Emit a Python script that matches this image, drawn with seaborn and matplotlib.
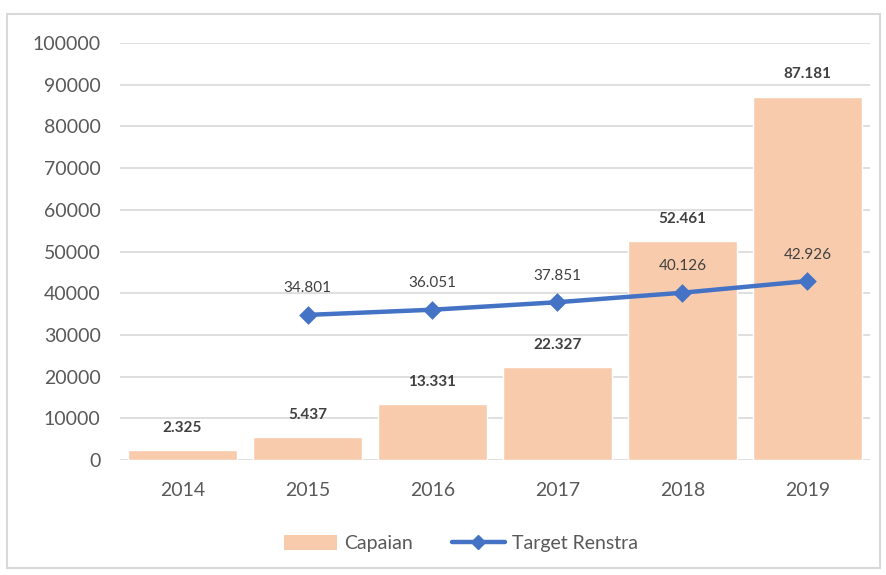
import matplotlib
matplotlib.use("Agg")
import matplotlib.pyplot as plt
import seaborn as sns
import pandas as pd
from matplotlib.patches import Rectangle
from matplotlib.lines import Line2D
from matplotlib.patches import Patch

years = ["2014", "2015", "2016", "2017", "2018", "2019"]
capaian = [2325, 5437, 13331, 22327, 52461, 87181]
target_years = ["2015", "2016", "2017", "2018", "2019"]
target = [34801, 36051, 37851, 40126, 42926]
yticks = [0, 10000, 20000, 30000, 40000, 50000, 60000, 70000, 80000, 90000, 100000]

bar_color = "#F8CBAD"
line_color = "#4472C4"
text_color = "#595959"
label_color = "#404040"

sns.set_theme(style="white")
plt.rcParams["font.family"] = ["Lato", "DejaVu Sans"]

fig = plt.figure(figsize=(8.87, 5.75), dpi=100)
ax = fig.add_axes([0.1353, 0.2, 0.8455, 0.725])

df_bar = pd.DataFrame({"year": years, "value": capaian})
df_line = pd.DataFrame({"year": target_years, "value": target})

sns.barplot(data=df_bar, x="year", y="value", order=years, color=bar_color,
            saturation=1, width=0.87, ax=ax, zorder=2)
sns.pointplot(data=df_line, x="year", y="value", order=years, color=line_color,
              markers="D", linestyles="-", ax=ax, zorder=3,
              linewidth=3.2, markersize=7.5)

ax.set_ylim(0, 100000)
ax.set_yticks(yticks)
ax.set_yticklabels([str(v) for v in yticks])
ax.set_xlim(-0.5, len(years) - 0.5)
ax.set_xlabel("")
ax.set_ylabel("")
ax.yaxis.grid(True, color="#D9D9D9", linewidth=1.2, zorder=0)
ax.set_axisbelow(True)
for s in ax.spines.values():
    s.set_visible(False)
ax.tick_params(axis="both", length=0, labelsize=14, colors=text_color)
ax.tick_params(axis="y", pad=14)
ax.tick_params(axis="x", pad=16)

def fmt(v):
    return f"{v:,}".replace(",", ".")

for i, v in enumerate(capaian):
    ax.annotate(fmt(v), (i, v), xytext=(0, 11), textcoords="offset points",
                ha="center", va="bottom", fontsize=11, fontweight="bold",
                color=label_color)
for y, v in zip(target_years, target):
    i = years.index(y)
    ax.annotate(fmt(v), (i, v), xytext=(0, 14), textcoords="offset points",
                ha="center", va="bottom", fontsize=11, color=label_color)

handles = [Patch(facecolor=bar_color, edgecolor="none"),
           Line2D([0], [0], color=line_color, lw=3.2, marker="D", markersize=7.5)]
fig.legend(handles, ["Capaian", "Target Renstra"], loc="center",
           bbox_to_anchor=(0.52, 0.055), ncol=2, frameon=False, fontsize=14,
           labelcolor=text_color, handlelength=2.7, handleheight=0.8,
           columnspacing=2.0, handletextpad=0.4)

fig.patches.append(Rectangle((7 / 887, 7 / 575), 873 / 887, 554 / 575,
                             transform=fig.transFigure, fill=False,
                             edgecolor="#D9D9D9", linewidth=1.5))

fig.savefig("out.png", dpi=100, facecolor="white")
